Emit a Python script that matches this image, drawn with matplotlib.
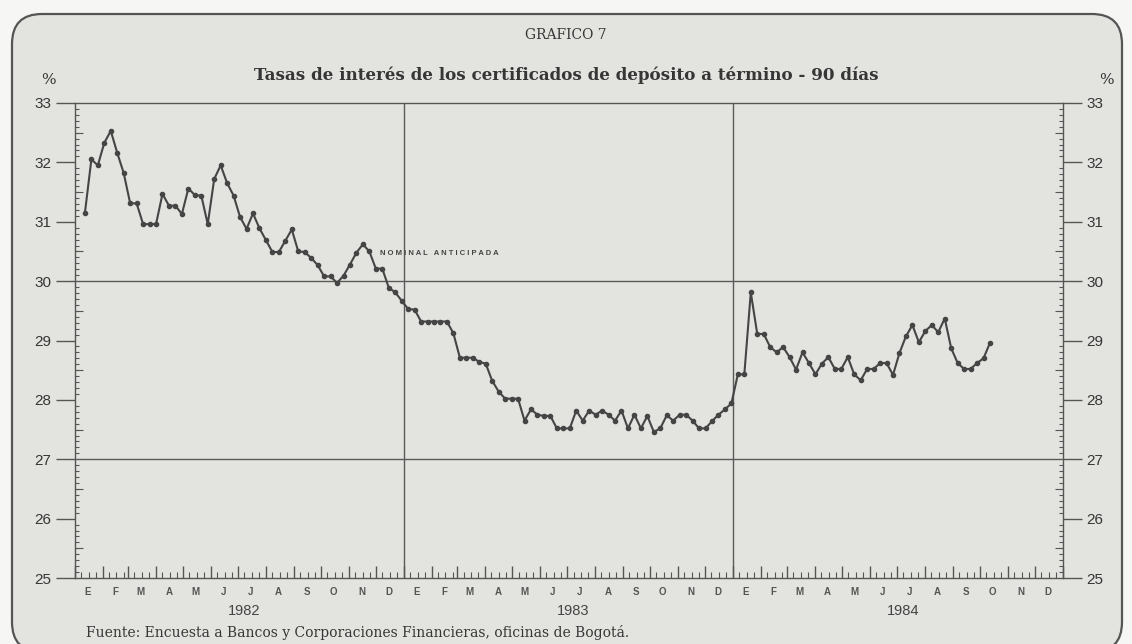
import matplotlib
matplotlib.use('Agg')
import matplotlib.pyplot as plt
import matplotlib.dates as mdates
from matplotlib.ticker import MultipleLocator
from matplotlib.patches import FancyBboxPatch
from matplotlib.transforms import IdentityTransform
import pandas as pd

# weekly rates (percent)
tasa_1982 = [31.15, 32.05, 31.95, 32.33, 32.53, 32.16, 31.82, 31.31, 31.31, 30.96,
             30.96, 30.96, 31.47, 31.27, 31.27, 31.13, 31.56, 31.45, 31.44, 30.96,
             31.72, 31.95, 31.65, 31.44, 31.08, 30.88, 31.14, 30.89, 30.69, 30.49,
             30.49, 30.68, 30.87, 30.50, 30.49, 30.39, 30.27, 30.08, 30.08, 29.97,
             30.09, 30.28, 30.48, 30.62, 30.50, 30.21, 30.21, 29.89, 29.81, 29.67,
             29.53]
tasa_1983 = [29.52, 29.32, 29.32, 29.32, 29.32, 29.32, 29.12, 28.71, 28.71, 28.71,
             28.64, 28.61, 28.32, 28.14, 28.02, 28.02, 28.02, 27.65, 27.84, 27.75,
             27.73, 27.73, 27.52, 27.52, 27.52, 27.82, 27.65, 27.82, 27.75, 27.82,
             27.75, 27.65, 27.82, 27.52, 27.75, 27.52, 27.73, 27.46, 27.52, 27.74,
             27.65, 27.75, 27.75, 27.65, 27.52, 27.52, 27.64, 27.75, 27.84, 27.94,
             28.43]
tasa_1984 = [28.43, 29.81, 29.11, 29.11, 28.89, 28.80, 28.89, 28.72, 28.51, 28.80,
             28.62, 28.43, 28.61, 28.72, 28.52, 28.52, 28.72, 28.43, 28.33, 28.52,
             28.52, 28.62, 28.62, 28.42, 28.79, 29.07, 29.26, 28.97, 29.16, 29.26,
             29.14, 29.37, 28.87, 28.62, 28.52, 28.52, 28.62, 28.70, 28.96]
primera_obs = '1982-01-12'
ultima_obs = '1984-10-12'

meses = ['E', 'F', 'M', 'A', 'M', 'J', 'J', 'A', 'S', 'O', 'N', 'D']
anios = [1982, 1983, 1984]
y_ticks = [25, 26, 27, 28, 29, 30, 31, 32, 33]
lineas_h = [30, 27]

tasas = tasa_1982 + tasa_1983 + tasa_1984
fechas = pd.date_range(primera_obs, ultima_obs, periods=len(tasas))

SERIF = ['DejaVu Serif']
SANS = ['Liberation Sans', 'DejaVu Sans']
INK = '#363636'

fig = plt.figure(figsize=(11.32, 6.44), dpi=100)
fig.patch.set_facecolor('#f6f6f4')

# page with rounded border (pixel coords)
page = FancyBboxPatch((12, -8), 1110, 638, boxstyle='round,pad=0,rounding_size=30',
                      transform=IdentityTransform(), facecolor='#e3e3e0',
                      edgecolor='#555555', linewidth=1.6, zorder=0)
fig.add_artist(page)

ax = fig.add_axes([75 / 1132, 66 / 644, 988 / 1132, 475 / 644])
ax.set_facecolor('none')

ax.plot(fechas, tasas, color='#454545', lw=1.5, marker='o', ms=3, zorder=3)

ax.set_xlim(pd.Timestamp('1982-01-01'), pd.Timestamp('1985-01-01'))
ax.set_ylim(25, 33)

for y in lineas_h:
    ax.axhline(y, color='#5a5a5a', lw=1.0, zorder=1)
for a in anios[1:]:
    ax.axvline(pd.Timestamp(f'{a}-01-01'), color='#5a5a5a', lw=1.0, zorder=1)

for s in ax.spines.values():
    s.set_color('#555555')
    s.set_linewidth(1.0)

# y axis ticks on both sides
ax.set_yticks(y_ticks)
ax.yaxis.set_minor_locator(MultipleLocator(0.1))
ax.tick_params(axis='y', which='major', direction='out', length=14, width=1,
               color='#555555', left=True, right=True, labelleft=True,
               labelright=True, labelsize=11, labelcolor=INK, pad=3)
ax.tick_params(axis='y', which='minor', direction='in', length=3, width=0.8,
               color='#555555', left=True, right=True)
for lab in ax.get_yticklabels():
    lab.set_family(SANS)
medios = [y + 0.5 for y in y_ticks[:-1]]
ax.hlines(medios, 0, 0.008, transform=ax.get_yaxis_transform(), color='#555555', lw=0.8)
ax.hlines(medios, 0.992, 1, transform=ax.get_yaxis_transform(), color='#555555', lw=0.8)

# x axis: month ticks long, weekly short, labels as text
ax.xaxis.set_major_locator(mdates.MonthLocator())
ax.xaxis.set_minor_locator(mdates.DayLocator(bymonthday=[8, 16, 24]))
ax.tick_params(axis='x', which='major', direction='in', length=9, width=1,
               color='#555555', labelbottom=False)
ax.tick_params(axis='x', which='minor', direction='in', length=4, width=0.8,
               color='#555555')

xt = ax.get_xaxis_transform()
for a in anios:
    for i, m in enumerate(meses):
        ax.text(pd.Timestamp(a, i + 1, 15), -0.019, m, transform=xt, ha='center',
                va='top', fontsize=7, fontweight='bold', color='#555555', family=SANS)
    ax.text(pd.Timestamp(a, 7, 8), -0.055, str(a), transform=xt, ha='center',
            va='top', fontsize=10.5, color='#444444', family=SANS)

ax.text(pd.Timestamp('1982-12-05'), 30.47, 'N O M I N A L   A N T I C I P A D A',
        fontsize=5.5, fontweight='bold', color='#444444', va='center', family=SANS)

fig.text(0.5, 1 - 35 / 644, 'GRAFICO 7', ha='center', va='center', fontsize=10,
         color=INK, family=SERIF)
fig.text(0.5, 1 - 75 / 644,
         'Tasas de interés de los certificados de depósito a término - 90 días',
         ha='center', va='center', fontsize=12.1, fontweight='bold', color=INK,
         family=SERIF)
fig.text(48 / 1132, 1 - 80 / 644, '%', ha='center', va='center', fontsize=11,
         color=INK, family=SERIF)
fig.text(1106 / 1132, 1 - 80 / 644, '%', ha='center', va='center', fontsize=11,
         color=INK, family=SERIF)
fig.text(86 / 1132, 1 - 632 / 644,
         'Fuente: Encuesta a Bancos y Corporaciones Financieras, oficinas de Bogotá.',
         ha='left', va='center', fontsize=10, color=INK, family=SERIF)

fig.savefig('out.png', dpi=100, facecolor=fig.get_facecolor())
